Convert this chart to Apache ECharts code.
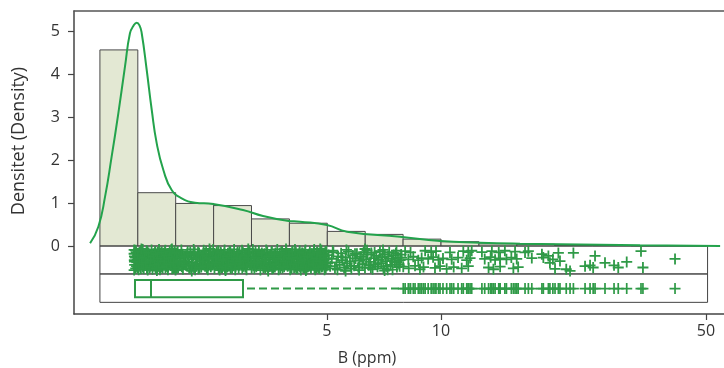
<!DOCTYPE html>
<html><head><meta charset="utf-8">
<script src="https://cdn.jsdelivr.net/npm/echarts@6/dist/echarts.min.js"></script>
<style>html,body{margin:0;padding:0;background:#fff}#c{width:724px;height:368px}</style>
</head><body><div id="c"></div>
<script>
// ---- data (B in ppm, density per log10 unit) ----
const xTicks = [5, 10, 50];
const yTicks = [0, 1, 2, 3, 4, 5];
const binEdges = [1.259,1.585,1.995,2.512,3.162,3.981,5.012,6.310,7.943,10.00,12.59,15.85,19.95,25.12,31.62,39.81,50.12];
const binDensity = [4.56,1.24,0.99,0.94,0.63,0.53,0.34,0.27,0.16,0.10,0.05,0.04,0.015,0.01,0.005,0.005];
const curveB = [1.186,1.247,1.299,1.352,1.408,1.466,1.511,1.544,1.574,1.601,1.623,1.673,1.725,1.778,1.851,1.947,2.069,2.243,2.502,3.003,3.391,3.925,4.246,5.003,5.649,7.795,9.94,12.67,16.16,20.61,33.5,54.5];
const curveDensity = [0.063,0.449,1.147,2.077,3.086,4.17,4.947,5.12,5.193,5.13,4.947,4.093,3.163,2.388,1.767,1.302,1.109,1.007,0.977,0.837,0.698,0.588,0.565,0.488,0.333,0.216,0.116,0.077,0.053,0.04,0.016,0.0];
// min, Q1, median, Q3, upper whisker
const boxStats = [1.555, 1.558, 1.717, 3.003, 7.91];
const frameRange = [1.259, 50.5];
// strip (jittered) observations: [B, jitter]
const stripPoints = [
[1.55,-0.09],[1.55,-0.56],[1.552,-0.33],[1.553,-0.24],
[1.550,-0.18],[1.555,-0.44],[1.560,-0.27],[1.565,-0.52],[1.570,-0.14],[1.575,-0.38],[1.580,-0.31],[1.585,-0.50],
[1.590,-0.22],[1.595,-0.47],[1.600,-0.15],[1.605,-0.41],[1.610,-0.29],[1.615,-0.53],[1.620,-0.20],[1.625,-0.36],
[1.630,-0.16],[1.635,-0.49],[1.640,-0.25],[1.645,-0.43],[1.650,-0.30],[1.655,-0.34],[1.660,-0.17],[1.665,-0.40],
[1.670,-0.24],[1.675,-0.51],[1.680,-0.13],[1.685,-0.46],[1.690,-0.28],[1.695,-0.35],[1.700,-0.21],[1.705,-0.48],
[1.710,-0.19],[1.715,-0.42],[1.720,-0.26],[1.725,-0.39],[1.730,-0.23],[1.735,-0.45],[1.740,-0.18],[1.745,-0.37],
[1.750,-0.27],[1.755,-0.44],[1.760,-0.14],[1.765,-0.52],[1.770,-0.31],[1.775,-0.38],[1.780,-0.22],[1.785,-0.50],
[1.790,-0.15],[1.795,-0.47],[1.800,-0.29],[1.805,-0.41],[1.810,-0.20],[1.815,-0.53],[1.820,-0.16],[1.825,-0.36],
[1.830,-0.25],[1.835,-0.49],[1.840,-0.30],[1.845,-0.43],[1.850,-0.17],[1.855,-0.34],[1.860,-0.24],[1.865,-0.40],
[1.870,-0.13],[1.875,-0.51],[1.880,-0.28],[1.885,-0.46],[1.890,-0.21],[1.895,-0.35],[1.900,-0.19],[1.905,-0.48],
[1.910,-0.26],[1.915,-0.42],[1.920,-0.23],[1.925,-0.39],[1.930,-0.18],[1.935,-0.45],[1.940,-0.27],[1.945,-0.37],
[1.950,-0.14],[1.955,-0.44],[1.960,-0.31],[1.965,-0.52],[1.970,-0.22],[1.975,-0.38],[1.980,-0.15],[1.985,-0.50],
[1.990,-0.29],[1.995,-0.47],
[2.00,-0.24],[2.01,-0.51],[2.02,-0.13],[2.03,-0.46],[2.04,-0.28],[2.05,-0.35],[2.06,-0.21],[2.07,-0.48],
[2.08,-0.19],[2.09,-0.42],[2.10,-0.26],[2.11,-0.39],[2.12,-0.23],[2.13,-0.45],[2.14,-0.18],[2.15,-0.37],
[2.16,-0.27],[2.17,-0.44],[2.18,-0.14],[2.19,-0.52],[2.20,-0.31],[2.21,-0.38],[2.22,-0.22],[2.23,-0.50],
[2.24,-0.15],[2.25,-0.47],[2.26,-0.29],[2.27,-0.41],[2.28,-0.20],[2.29,-0.53],[2.30,-0.16],[2.31,-0.36],
[2.32,-0.25],[2.33,-0.49],[2.34,-0.30],[2.35,-0.43],[2.36,-0.17],[2.37,-0.34],[2.38,-0.24],[2.39,-0.40],
[2.40,-0.13],[2.41,-0.51],[2.42,-0.28],[2.43,-0.46],[2.44,-0.21],[2.45,-0.35],[2.46,-0.19],[2.47,-0.48],
[2.48,-0.26],[2.49,-0.42],[2.50,-0.23],[2.51,-0.39],[2.52,-0.18],[2.53,-0.45],[2.54,-0.27],[2.55,-0.37],
[2.56,-0.14],[2.57,-0.44],[2.58,-0.31],[2.59,-0.52],[2.60,-0.22],[2.61,-0.38],[2.62,-0.15],[2.63,-0.50],
[2.64,-0.29],[2.65,-0.47],[2.66,-0.20],[2.67,-0.41],[2.68,-0.16],[2.69,-0.53],[2.70,-0.25],[2.71,-0.36],
[2.72,-0.30],[2.73,-0.49],[2.74,-0.17],[2.75,-0.43],[2.76,-0.24],[2.77,-0.34],[2.78,-0.13],[2.79,-0.40],
[2.80,-0.28],[2.81,-0.51],[2.82,-0.21],[2.83,-0.46],[2.84,-0.19],[2.85,-0.35],[2.86,-0.26],[2.87,-0.48],
[2.88,-0.23],[2.89,-0.42],[2.90,-0.18],[2.91,-0.39],[2.92,-0.27],[2.93,-0.45],[2.94,-0.14],[2.95,-0.37],
[2.96,-0.31],[2.97,-0.44],[2.98,-0.22],[2.99,-0.52],
[3.000,-0.15],[3.015,-0.36],[3.030,-0.29],[3.045,-0.49],[3.060,-0.20],[3.075,-0.43],[3.090,-0.16],[3.105,-0.34],
[3.120,-0.25],[3.135,-0.40],[3.150,-0.30],[3.165,-0.51],[3.180,-0.17],[3.195,-0.46],[3.210,-0.24],[3.225,-0.35],
[3.240,-0.13],[3.255,-0.48],[3.270,-0.28],[3.285,-0.42],[3.300,-0.21],[3.315,-0.39],[3.330,-0.19],[3.345,-0.45],
[3.360,-0.26],[3.375,-0.37],[3.390,-0.23],[3.405,-0.44],[3.420,-0.18],[3.435,-0.52],[3.450,-0.27],[3.465,-0.38],
[3.480,-0.14],[3.495,-0.50],[3.510,-0.31],[3.525,-0.47],[3.540,-0.22],[3.555,-0.41],[3.570,-0.15],[3.585,-0.53],
[3.600,-0.29],[3.615,-0.36],[3.630,-0.20],[3.645,-0.49],[3.660,-0.16],[3.675,-0.43],[3.690,-0.25],[3.705,-0.34],
[3.720,-0.30],[3.735,-0.40],[3.750,-0.17],[3.765,-0.51],[3.780,-0.24],[3.795,-0.46],[3.810,-0.13],[3.825,-0.35],
[3.840,-0.28],[3.855,-0.48],[3.870,-0.21],[3.885,-0.42],[3.900,-0.19],[3.915,-0.39],[3.930,-0.26],[3.945,-0.45],
[3.960,-0.23],[3.975,-0.37],[3.990,-0.18],[4.005,-0.44],[4.020,-0.27],[4.035,-0.52],[4.050,-0.14],[4.065,-0.38],
[4.080,-0.31],[4.095,-0.50],[4.110,-0.22],[4.125,-0.47],[4.140,-0.15],[4.155,-0.41],[4.170,-0.29],[4.185,-0.53],
[4.200,-0.20],[4.215,-0.36],[4.230,-0.16],[4.245,-0.49],[4.260,-0.25],[4.275,-0.43],[4.290,-0.30],[4.305,-0.34],
[4.320,-0.17],[4.335,-0.40],[4.350,-0.24],[4.365,-0.51],[4.380,-0.13],[4.395,-0.46],[4.410,-0.28],[4.425,-0.35],
[4.440,-0.21],[4.455,-0.48],[4.470,-0.19],[4.485,-0.42],[4.500,-0.26],[4.515,-0.39],[4.530,-0.23],[4.545,-0.45],
[4.560,-0.18],[4.575,-0.37],[4.590,-0.27],[4.605,-0.44],[4.620,-0.14],[4.635,-0.52],[4.650,-0.31],[4.665,-0.38],
[4.680,-0.22],[4.695,-0.50],[4.710,-0.15],[4.725,-0.47],[4.740,-0.29],[4.755,-0.41],[4.770,-0.20],[4.785,-0.53],
[4.800,-0.16],[4.815,-0.36],[4.830,-0.25],[4.845,-0.49],[4.860,-0.30],[4.875,-0.43],[4.890,-0.17],[4.905,-0.34],
[4.920,-0.24],[4.935,-0.40],[4.950,-0.13],[4.965,-0.51],[4.980,-0.28],[4.995,-0.46],
[1.553,-0.36],[1.563,-0.10],[1.573,-0.47],[1.583,-0.21],[1.593,-0.55],[1.603,-0.30],[1.613,-0.12],[1.623,-0.42],
[1.633,-0.08],[1.643,-0.53],[1.653,-0.27],[1.663,-0.39],[1.673,-0.11],[1.683,-0.56],[1.693,-0.16],[1.703,-0.50],
[1.713,-0.33],[1.723,-0.09],[1.733,-0.54],[1.743,-0.24],[1.753,-0.45],[1.763,-0.13],[1.773,-0.52],[1.783,-0.19],
[1.793,-0.44],[1.803,-0.08],[1.813,-0.55],[1.823,-0.29],[1.833,-0.14],[1.843,-0.51],[1.853,-0.35],[1.863,-0.36],
[1.873,-0.10],[1.883,-0.47],[1.893,-0.21],[1.903,-0.55],[1.913,-0.30],[1.923,-0.12],[1.933,-0.42],[1.943,-0.08],
[1.953,-0.53],[1.963,-0.27],[1.973,-0.39],[1.983,-0.11],[1.993,-0.56],
[2.005,-0.16],[2.025,-0.50],[2.045,-0.33],[2.065,-0.09],[2.085,-0.54],[2.105,-0.24],[2.125,-0.45],[2.145,-0.13],
[2.165,-0.52],[2.185,-0.19],[2.205,-0.44],[2.225,-0.08],[2.245,-0.55],[2.265,-0.29],[2.285,-0.14],[2.305,-0.51],
[2.325,-0.35],[2.345,-0.36],[2.365,-0.10],[2.385,-0.47],[2.405,-0.21],[2.425,-0.55],[2.445,-0.30],[2.465,-0.12],
[2.485,-0.42],[2.505,-0.08],[2.525,-0.53],[2.545,-0.27],[2.565,-0.39],[2.585,-0.11],[2.605,-0.56],[2.625,-0.16],
[2.645,-0.50],[2.665,-0.33],[2.685,-0.09],[2.705,-0.54],[2.725,-0.24],[2.745,-0.45],[2.765,-0.13],[2.785,-0.52],
[2.805,-0.19],[2.825,-0.44],[2.845,-0.08],[2.865,-0.55],[2.885,-0.29],[2.905,-0.14],[2.925,-0.51],[2.945,-0.35],
[2.965,-0.36],[2.985,-0.10],
[3.008,-0.47],[3.038,-0.21],[3.068,-0.55],[3.098,-0.30],[3.128,-0.12],[3.158,-0.42],[3.188,-0.08],[3.218,-0.53],
[3.248,-0.27],[3.278,-0.39],[3.308,-0.11],[3.338,-0.56],[3.368,-0.16],[3.398,-0.50],[3.428,-0.33],[3.458,-0.09],
[3.488,-0.54],[3.518,-0.24],[3.548,-0.45],[3.578,-0.13],[3.608,-0.52],[3.638,-0.19],[3.668,-0.44],[3.698,-0.08],
[3.728,-0.55],[3.758,-0.29],[3.788,-0.14],[3.818,-0.51],[3.848,-0.35],[3.878,-0.36],[3.908,-0.10],[3.938,-0.47],
[3.968,-0.21],[3.998,-0.55],[4.028,-0.30],[4.058,-0.12],[4.088,-0.42],[4.118,-0.08],[4.148,-0.53],[4.178,-0.27],
[4.208,-0.39],[4.238,-0.11],[4.268,-0.56],[4.298,-0.16],[4.328,-0.50],[4.358,-0.33],[4.388,-0.09],[4.418,-0.54],
[4.448,-0.24],[4.478,-0.45],[4.508,-0.13],[4.538,-0.52],[4.568,-0.19],[4.598,-0.44],[4.628,-0.08],[4.658,-0.55],
[4.688,-0.29],[4.718,-0.14],[4.748,-0.51],[4.778,-0.35],[4.808,-0.36],[4.838,-0.10],[4.868,-0.47],[4.898,-0.21],
[4.928,-0.55],[4.958,-0.30],[4.988,-0.12],
[5.05,-0.21],[5.10,-0.47],[5.15,-0.30],[5.20,-0.15],[5.25,-0.52],[5.30,-0.38],[5.35,-0.24],[5.40,-0.44],
[5.45,-0.17],[5.50,-0.33],[5.55,-0.50],[5.60,-0.27],[5.65,-0.41],[5.70,-0.13],[5.75,-0.36],[5.80,-0.53],
[5.85,-0.22],[5.90,-0.46],[5.95,-0.29],[6.00,-0.18],[6.05,-0.49],[6.10,-0.34],[6.15,-0.25],[6.20,-0.42],
[6.25,-0.14],[6.30,-0.51],[6.35,-0.31],[6.40,-0.20],[6.45,-0.45],[6.50,-0.37],[6.55,-0.16],[6.60,-0.54],
[6.65,-0.28],[6.70,-0.43],[6.75,-0.23],[6.80,-0.48],[6.85,-0.32],[6.90,-0.12],[6.95,-0.40],[7.00,-0.26],
[7.05,-0.52],[7.10,-0.19],[7.15,-0.35],[7.20,-0.47],[7.25,-0.24],[7.30,-0.14],[7.35,-0.44],[7.40,-0.30],
[7.45,-0.55],[7.50,-0.21],[7.55,-0.38],[7.60,-0.17],[7.65,-0.49],[7.70,-0.27],[7.75,-0.42],[7.80,-0.33],[7.85,-0.20],
[5.03,-0.40],[5.18,-0.11],[5.33,-0.55],[5.48,-0.26],[5.63,-0.09],[5.78,-0.46],[5.93,-0.18],[6.08,-0.56],
[6.23,-0.31],[6.38,-0.10],[6.53,-0.50],[6.68,-0.15],[6.83,-0.41],[7.03,-0.09],[7.23,-0.55],[7.43,-0.35],
[7.63,-0.11],[7.78,-0.47],
[1.62,-0.07],[1.78,-0.57],[1.95,-0.07],[2.2,-0.58],[2.45,-0.07],[2.7,-0.57],[3.1,-0.07],[3.5,-0.58],
[3.9,-0.07],[4.4,-0.57],[4.8,-0.07],[5.6,-0.58],[6.3,-0.07],[7.1,-0.57],
[8.04,-0.12],[8.31,-0.15],[9.08,-0.11],[9.42,-0.14],[9.70,-0.12],[10.56,-0.15],[11.45,-0.12],[11.80,-0.14],
[12.05,-0.11],[12.82,-0.14],[13.62,-0.12],[14.20,-0.15],[14.74,-0.11],[15.68,-0.13],[16.66,-0.15],[17.00,-0.12],
[7.87,-0.27],[8.20,-0.31],[8.45,-0.25],[8.71,-0.33],[8.89,-0.28],[9.25,-0.30],[9.53,-0.26],[9.85,-0.32],
[10.12,-0.29],[10.67,-0.31],[11.09,-0.27],[11.69,-0.33],[11.93,-0.28],[13.04,-0.30],[13.52,-0.26],[13.89,-0.32],
[14.32,-0.29],[14.88,-0.31],[15.33,-0.27],[15.84,-0.30],[17.36,-0.28],
[7.95,-0.48],[8.22,-0.52],[8.54,-0.46],[8.80,-0.54],[8.99,-0.49],[9.64,-0.51],[9.94,-0.47],[10.35,-0.53],
[10.80,-0.49],[11.34,-0.52],[11.80,-0.47],[13.35,-0.50],[13.75,-0.54],[14.32,-0.48],[15.52,-0.52],[15.98,-0.49],
[18.46,-0.19],[18.62,-0.27],[19.20,-0.23],[19.38,-0.39],[19.73,-0.31],[19.99,-0.53],[20.40,-0.16],[20.60,-0.35],
[21.40,-0.54],[21.90,-0.58],[22.35,-0.16],[23.99,-0.47],[24.73,-0.45],[25.20,-0.50],[25.49,-0.23],[27.08,-0.39],
[28.61,-0.45],[29.35,-0.50],[30.90,-0.37],[33.70,-0.12],[34.10,-0.50],[41.44,-0.30]
];

// ---- layout constants (density units on the y axis) ----
const STRIP_TOP = 0, STRIP_BOTTOM = -0.65, BOX_BOTTOM = -1.31;
const BOX_Y = -0.99, BOX_HALF = 0.2;
const GREEN = '#2f9a47', CURVE = '#23a34c';
const plusSymbol = 'path://M5 0L5 10M0 5L10 5';

const chart = echarts.init(document.getElementById('c'), null, {renderer: 'canvas'});
const font = 'Open Sans';
const outliers = stripPoints.filter(p => p[0] > boxStats[4]).map(p => [p[0], BOX_Y]);
const bins = binDensity.map((d, i) => [binEdges[i], binEdges[i + 1], d]);

chart.setOption({
  animation: false,
  grid: {left: 74, right: 0, top: 11, bottom: 54, outerBoundsMode: 'none', containLabel: false},
  xAxis: [{
    type: 'log', min: 1.0756, max: 55.8, position: 'bottom',
    axisLine: {onZero: false, lineStyle: {color: '#444', width: 1.5}},
    axisTick: {customValues: xTicks, length: 6, lineStyle: {color: '#444', width: 1.2}},
    axisLabel: {customValues: xTicks, fontFamily: font, fontSize: 16, color: '#333', margin: 9},
    splitLine: {show: false}, minorTick: {show: false},
    name: 'B (ppm)', nameLocation: 'middle', nameGap: 36,
    nameTextStyle: {fontFamily: font, fontSize: 16, color: '#333', padding: [0, 64, 0, 0]}
  }, {
    type: 'log', min: 1.0756, max: 55.8, position: 'top',
    axisLine: {show: true, onZero: false, lineStyle: {color: '#555', width: 1.5}},
    axisTick: {show: false}, axisLabel: {show: false}, splitLine: {show: false}
  }],
  yAxis: {
    type: 'value', min: -1.581, max: 5.465,
    axisLine: {show: true, onZero: false, lineStyle: {color: '#444', width: 1.5}},
    axisTick: {show: true, customValues: yTicks, length: 6, lineStyle: {color: '#444', width: 1.2}},
    axisLabel: {customValues: yTicks, fontFamily: font, fontSize: 16, color: '#333', margin: 14},
    splitLine: {show: false},
    name: 'Densitet (Density)', nameLocation: 'middle', nameGap: 46,
    nameTextStyle: {fontFamily: font, fontSize: 18, color: '#333', padding: [0, 0, 0, 43]}
  },
  series: [
    {
      type: 'custom', z: 1, data: bins,
      renderItem: function (params, api) {
        const p0 = api.coord([api.value(0), 0]);
        const p1 = api.coord([api.value(1), api.value(2)]);
        return {type: 'rect', shape: {x: p0[0], y: p1[1], width: p1[0] - p0[0], height: p0[1] - p1[1]},
          style: {fill: '#e3e8d3', stroke: '#4a4a4a', lineWidth: 1}};
      }
    },
    {
      type: 'custom', z: 2, data: [frameRange],
      renderItem: function (params, api) {
        const a = api.coord([api.value(0), STRIP_TOP]);
        const b = api.coord([api.value(1), STRIP_BOTTOM]);
        const c = api.coord([api.value(1), BOX_BOTTOM]);
        return {type: 'group', children: [
          {type: 'rect', shape: {x: a[0], y: a[1], width: b[0] - a[0], height: b[1] - a[1]}, style: {fill: 'none', stroke: '#444', lineWidth: 1}},
          {type: 'rect', shape: {x: a[0], y: b[1], width: b[0] - a[0], height: c[1] - b[1]}, style: {fill: 'none', stroke: '#444', lineWidth: 1}}
        ]};
      }
    },
    {
      type: 'custom', z: 4, data: [boxStats],
      renderItem: function (params, api) {
        const q1 = api.value(1), med = api.value(2), q3 = api.value(3), wh = api.value(4);
        const tl = api.coord([q1, BOX_Y + BOX_HALF]);
        const br = api.coord([q3, BOX_Y - BOX_HALF]);
        const mt = api.coord([med, BOX_Y + BOX_HALF]);
        const mb = api.coord([med, BOX_Y - BOX_HALF]);
        const w0 = api.coord([q3, BOX_Y]);
        const w1 = api.coord([wh, BOX_Y]);
        return {type: 'group', children: [
          {type: 'rect', shape: {x: tl[0], y: tl[1], width: br[0] - tl[0], height: br[1] - tl[1]}, style: {fill: 'none', stroke: GREEN, lineWidth: 2}},
          {type: 'line', shape: {x1: mt[0], y1: mt[1], x2: mb[0], y2: mb[1]}, style: {stroke: GREEN, lineWidth: 2}},
          {type: 'line', shape: {x1: w0[0] + 4, y1: w0[1], x2: w1[0], y2: w1[1]}, style: {stroke: GREEN, lineWidth: 2, lineDash: [8, 4]}}
        ]};
      }
    },
    {
      type: 'scatter', z: 3, data: stripPoints, symbol: plusSymbol, symbolSize: 11,
      itemStyle: {color: 'rgba(0,0,0,0)', borderColor: GREEN, borderWidth: 1.8, opacity: 1},
      emphasis: {disabled: true}, large: false
    },
    {
      type: 'scatter', z: 3, data: outliers, symbol: plusSymbol, symbolSize: 11,
      itemStyle: {color: 'rgba(0,0,0,0)', borderColor: GREEN, borderWidth: 1.7, opacity: 1},
      emphasis: {disabled: true}
    },
    {
      type: 'line', z: 5, data: curveB.map((b, i) => [b, curveDensity[i]]),
      smooth: 0.5, showSymbol: false, symbol: 'none',
      lineStyle: {color: CURVE, width: 2}
    }
  ]
});
</script>
</body></html>
